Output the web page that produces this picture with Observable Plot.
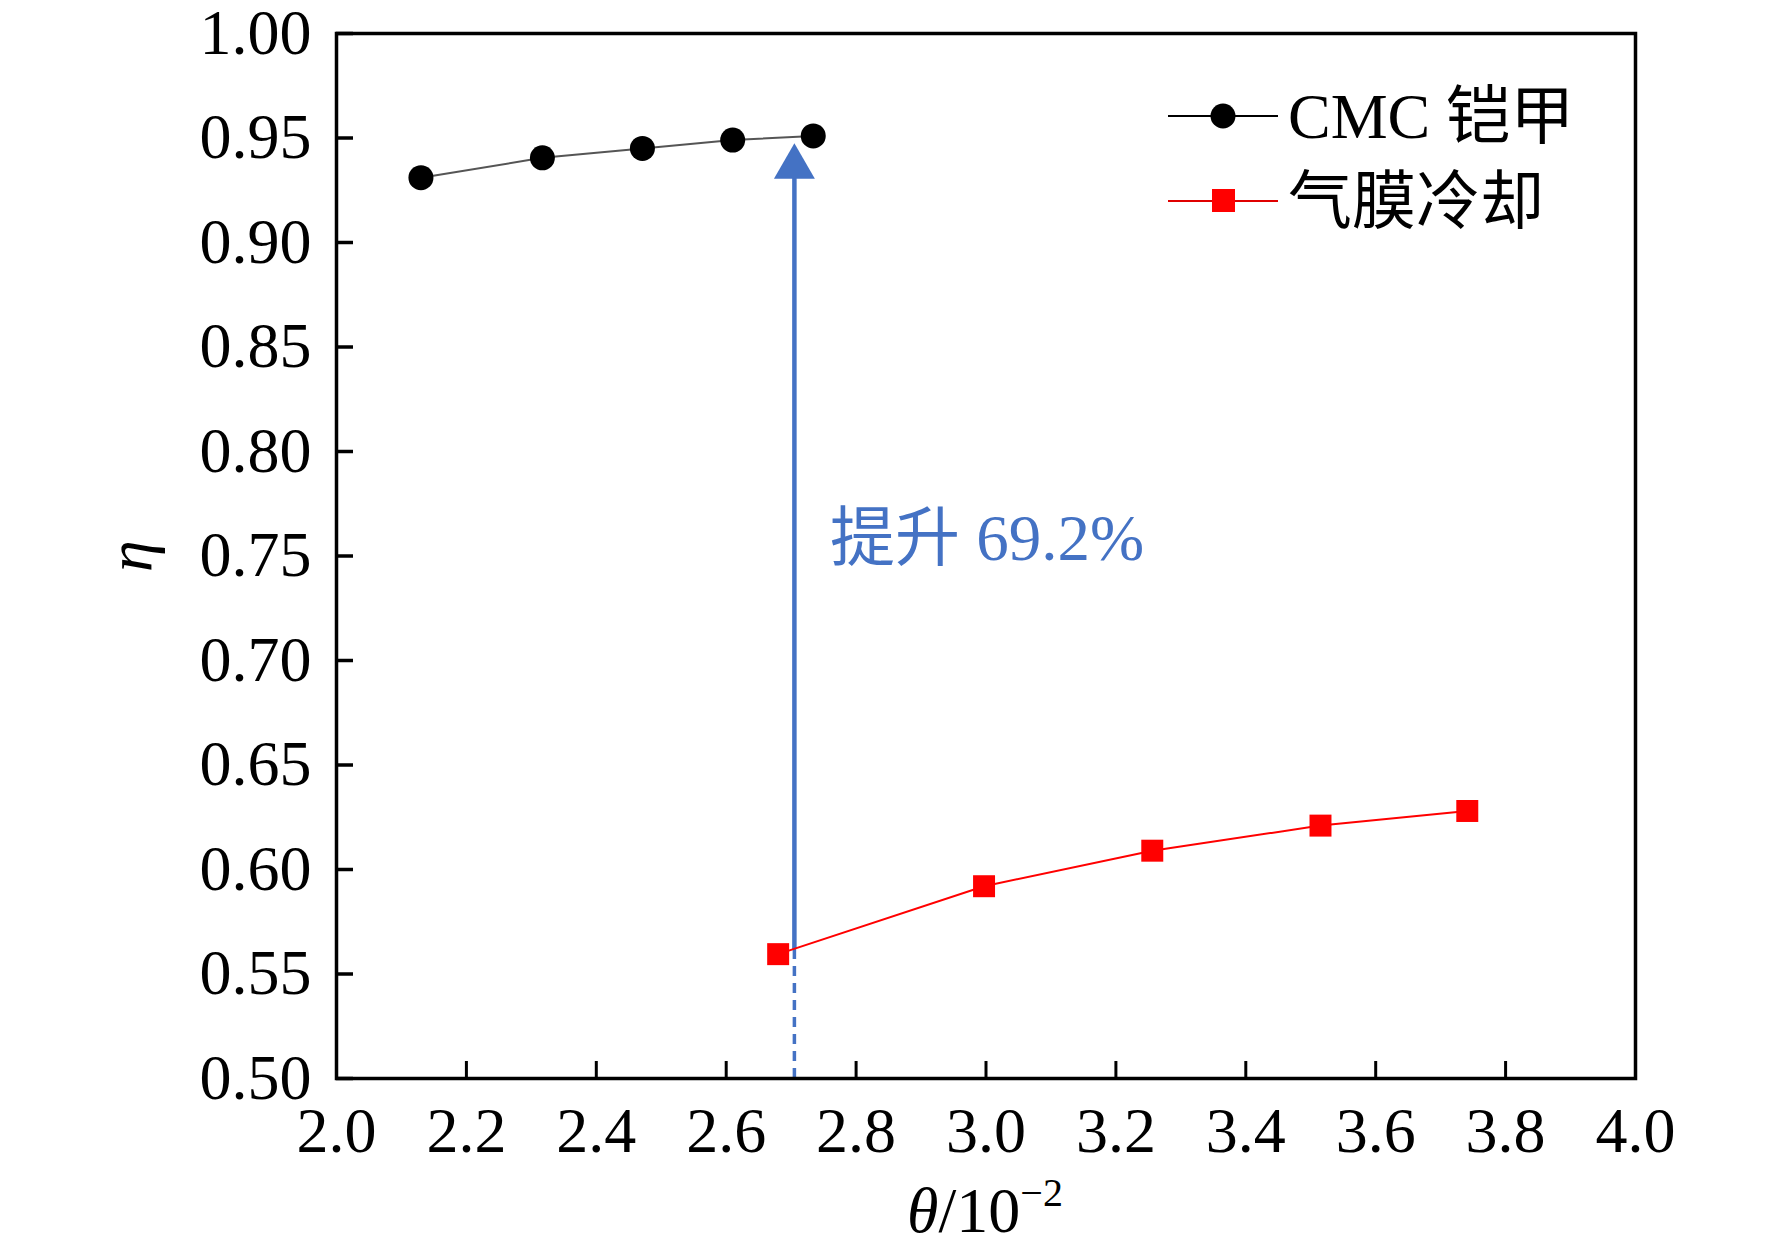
<!DOCTYPE html>
<html><head><meta charset="utf-8">
<script src="https://cdn.jsdelivr.net/npm/d3@7"></script>
<script src="https://cdn.jsdelivr.net/npm/@observablehq/plot@0.6"></script>
<style>body{margin:0;background:#fff}</style>
</head><body><div id="chart"></div>
<script>
// ---- data ----
const cmcTheta = [2.13, 2.317, 2.471, 2.61, 2.734];
const cmcEta   = [0.931, 0.9405, 0.945, 0.949, 0.951];
const filmTheta = [2.68, 2.997, 3.256, 3.515, 3.741];
const filmEta   = [0.5595, 0.592, 0.609, 0.621, 0.628];
const xTicks = [2.0, 2.2, 2.4, 2.6, 2.8, 3.0, 3.2, 3.4, 3.6, 3.8, 4.0];
const yTicks = [0.50, 0.55, 0.60, 0.65, 0.70, 0.75, 0.80, 0.85, 0.90, 0.95, 1.00];
const seriesNames = ["CMC 铠甲", "气膜冷却"];
const arrowX = 2.705;
const arrowStart = 0.5617;
const arrowTip = 0.9475;
const annotText = "提升 69.2%";
const annotX = 2.76;
const annotY = 0.758;

const cmc = cmcTheta.map((t, i) => ({theta: t, eta: cmcEta[i]}));
const film = filmTheta.map((t, i) => ({theta: t, eta: filmEta[i]}));

const FONT = "'Liberation Serif', 'Times New Roman', 'Noto Sans CJK SC', serif";
const BLUE = "#4472C4";

const chart = Plot.plot({
  width: 1772, height: 1248,
  marginLeft: 336, marginRight: 137, marginTop: 33, marginBottom: 170,
  style: {fontFamily: FONT, background: "#fff", color: "#000", overflow: "visible"},
  x: {domain: [2, 4]},
  y: {domain: [0.5, 1.0]},
  marks: [
    Plot.axisX({ticks: xTicks, tickFormat: d3.format(".1f"), tickSize: -17, tickPadding: 45, fontSize: 64, strokeWidth: 3, label: null}),
    Plot.axisY({ticks: yTicks, tickFormat: d3.format(".2f"), tickSize: -17, tickPadding: 42, fontSize: 64, strokeWidth: 3.5, label: null}),
    // arrow annotation
    Plot.ruleX([arrowX], {y1: 0.5, y2: arrowStart, stroke: BLUE, strokeWidth: 3.5, strokeDasharray: "10,7"}),
    Plot.ruleX([arrowX], {y1: arrowStart, y2: arrowTip - 0.01, stroke: BLUE, strokeWidth: 4.5}),
    Plot.dot([arrowTip], {x: () => arrowX, y: d => d, symbol: "triangle", r: 15.2, fill: BLUE, stroke: "none", dy: 23.7}),
    Plot.text([annotText], {x: () => annotX, y: () => annotY, text: d => d, textAnchor: "start", fill: BLUE, fontSize: 65}),
    // series
    Plot.line(cmc, {x: "theta", y: "eta", stroke: "#555", strokeWidth: 2}),
    Plot.dot(cmc, {x: "theta", y: "eta", r: 12.5, fill: "#000", stroke: "none"}),
    Plot.line(film, {x: "theta", y: "eta", stroke: "#ff0000", strokeWidth: 2}),
    Plot.dot(film, {x: "theta", y: "eta", symbol: "square", r: 12.4, fill: "#ff0000", stroke: "none"}),
    Plot.frame({stroke: "#000", strokeWidth: 3.5})
  ]
});

const svg = d3.select(chart);
// axis titles
const xt = svg.append("text").attr("x", 985).attr("y", 1232).attr("text-anchor", "middle")
  .attr("font-family", FONT).attr("font-size", 64).attr("fill", "#000");
xt.append("tspan").attr("font-style", "italic").text("θ");
xt.append("tspan").text("/10");
xt.append("tspan").attr("font-size", 40).attr("dy", -26).text("−2");

svg.append("text").attr("transform", "translate(151,556) rotate(-90)").attr("text-anchor", "middle")
  .attr("font-family", FONT).attr("font-size", 64).attr("font-style", "italic").attr("fill", "#000").text("η");

// legend
const lg = svg.append("g");
const rows = [
  {name: seriesNames[0], color: "#000", line: "#000", sym: "circle", y: 116},
  {name: seriesNames[1], color: "#ff0000", line: "#e00000", sym: "square", y: 201}
];
rows.forEach(r => {
  lg.append("line").attr("x1", 1168).attr("x2", 1278).attr("y1", r.y).attr("y2", r.y)
    .attr("stroke", r.line).attr("stroke-width", 2);
  if (r.sym === "circle") lg.append("circle").attr("cx", 1223).attr("cy", r.y).attr("r", 12.5).attr("fill", r.color);
  else lg.append("rect").attr("x", 1212).attr("y", r.y - 12).attr("width", 23).attr("height", 23).attr("fill", r.color);
  lg.append("text").attr("x", 1288).attr("y", r.y).attr("dy", "0.35em").attr("text-anchor", "start")
    .attr("font-family", FONT).attr("font-size", 64).attr("fill", "#000").text(r.name);
});

document.getElementById("chart").append(chart);
</script>
</body></html>
